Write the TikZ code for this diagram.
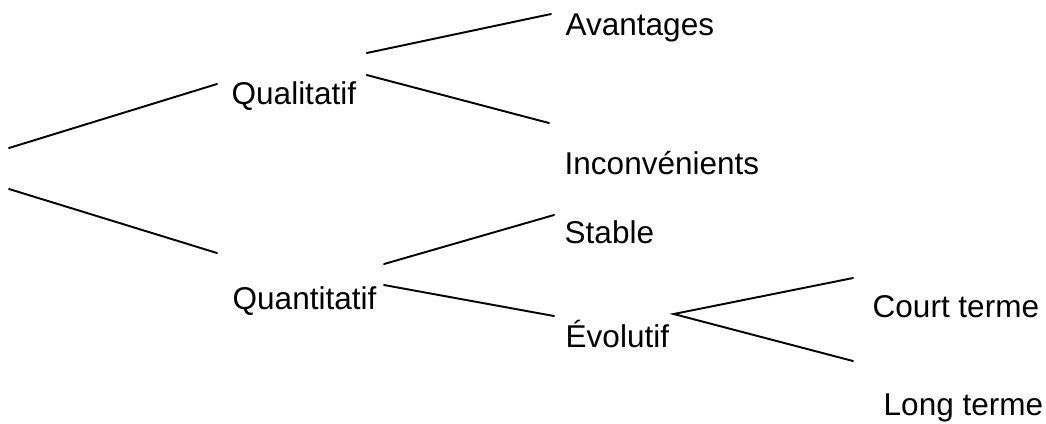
\documentclass[tikz,border=0pt]{standalone}
\usepackage{fontspec}
\setmainfont{Liberation Sans}
\tikzset{
  leaf/.style={anchor=base west, inner sep=0pt, font=\fontsize{8.96pt}{10pt}\selectfont},
  branch/.style={line width=0.55pt, line cap=round}
}
\begin{document}
\begin{tikzpicture}[x=0.01cm, y=-0.01cm]
  \useasboundingbox (0,0) rectangle (1046,423);

  % Labels
  \node[leaf] (qual)   at (231,104) {Qualitatif};
  \node[leaf] (quant)  at (232,309) {Quantitatif};
  \node[leaf] (avant)  at (565,35)  {Avantages};
  \node[leaf] (incon)  at (564,174) {Inconvénients};
  \node[leaf] (stable) at (564,243) {Stable};
  \node[leaf] (evol)   at (565,347) {Évolutif};
  \node[leaf] (court)  at (872,317) {Court terme};
  \node[leaf] (long)   at (883,415) {Long terme};

  % Root ends
  \coordinate (rootA) at (9,148);
  \coordinate (rootB) at (9,189);

  % Branches
  \draw[branch] (rootA) -- ([shift={(-14,-20)}]qual.base west);
  \draw[branch] (rootB) -- ([shift={(-15,-56)}]quant.base west);
  \draw[branch] ([shift={(10,-51)}]qual.base east) -- ([shift={(-14,-21)}]avant.base west);
  \draw[branch] ([shift={(10,-29)}]qual.base east) -- ([shift={(-15,-51)}]incon.base west);
  \draw[branch] ([shift={(7,-45)}]quant.base east) -- ([shift={(-10,-28)}]stable.base west);
  \draw[branch] ([shift={(7,-24)}]quant.base east) -- ([shift={(-11,-31)}]evol.base west);
  \draw[branch] ([shift={(-19,-39)}]court.base west) -- ([shift={(4,-33)}]evol.base east)
                -- ([shift={(-30,-54)}]long.base west);
\end{tikzpicture}
\end{document}
